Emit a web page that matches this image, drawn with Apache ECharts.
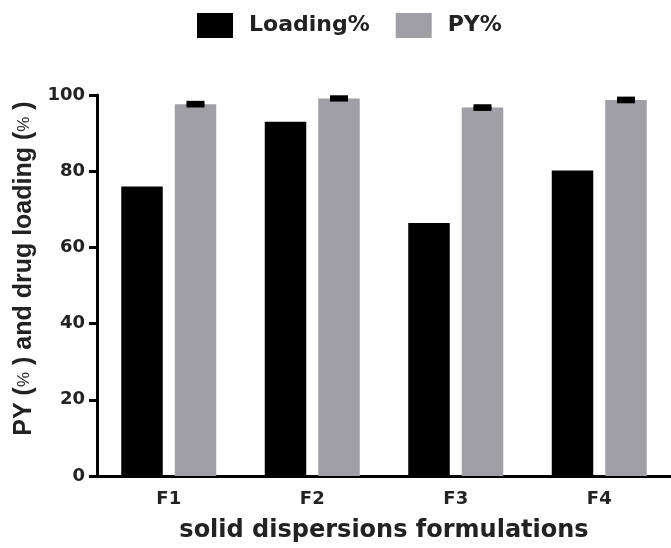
<!DOCTYPE html>
<html>
<head>
<meta charset="utf-8">
<script src="https://cdn.jsdelivr.net/npm/echarts@6/dist/echarts.min.js"></script>
<style>
  html, body { margin: 0; padding: 0; background: #fff; }
  #chart { width: 671px; height: 548px; }
</style>
</head>
<body>
<div id="chart"></div>
<script>
// Formulations and measured values (%)
const categories = ['F1', 'F2', 'F3', 'F4'];
const loading = [76.0, 93.0, 66.4, 80.2];
const py = [97.6, 99.1, 96.7, 98.7];
const pySd = [0.35, 0.3, 0.35, 0.35];
const yTicks = [0, 20, 40, 60, 80, 100];

// Bar geometry
const BAR_W = 41.5;
const BAR_GAP_PX = 12;
const PY_OFFSET = (BAR_W + BAR_GAP_PX) / 2;

const chart = echarts.init(document.getElementById('chart'), null, { renderer: 'canvas' });

const axisFont = 'DejaVu Sans';
const errorData = categories.map((c, i) => [i, py[i] - pySd[i], py[i] + pySd[i]]);

chart.setOption({
  animation: false,
  backgroundColor: '#ffffff',
  legend: {
    data: ['Loading%', 'PY%'],
    left: 192,
    top: 8,
    itemWidth: 36,
    itemHeight: 25,
    itemGap: 26,
    icon: 'rect',
    textStyle: {
      fontFamily: axisFont,
      fontWeight: 'bold',
      fontSize: 22,
      color: '#222',
      padding: [0, 0, 0, 11]
    }
  },
  grid: { left: 97, right: 0, top: 95, bottom: 71, containLabel: false },
  xAxis: {
    type: 'category',
    data: categories,
    name: 'solid dispersions formulations',
    nameLocation: 'middle',
    nameGap: 43,
    nameTextStyle: { fontFamily: axisFont, fontWeight: 'bold', fontSize: 24, color: '#222' },
    axisLine: { lineStyle: { color: '#000', width: 3 } },
    axisTick: { show: false },
    axisLabel: { fontFamily: axisFont, fontWeight: 'bold', fontSize: 18, color: '#222', margin: 14 }
  },
  yAxis: {
    type: 'value',
    min: yTicks[0],
    max: yTicks[yTicks.length - 1],
    interval: yTicks[1] - yTicks[0],
    name: 'PY ({s|%} ) and drug loading ({s|%} )',
    nameLocation: 'middle',
    nameGap: 54,
    nameRotate: 90,
    nameTextStyle: {
      fontFamily: 'Liberation Sans',
      fontWeight: 'bold',
      fontSize: 25,
      color: '#222',
      padding: [0, 0, 0, 34],
      rich: { s: { fontFamily: 'Liberation Sans', fontSize: 17, fontWeight: 'normal', color: '#222' } }
    },
    splitLine: { show: false },
    axisLine: { show: true, lineStyle: { color: '#000', width: 3 } },
    axisTick: { show: true, length: 8, lineStyle: { color: '#000', width: 3 } },
    axisLabel: { fontFamily: axisFont, fontWeight: 'bold', fontSize: 18, color: '#222', margin: 12 }
  },
  series: [
    {
      name: 'Loading%',
      type: 'bar',
      data: loading,
      barWidth: BAR_W,
      barGap: (BAR_GAP_PX / BAR_W * 100) + '%',
      itemStyle: { color: '#000000' }
    },
    {
      name: 'PY%',
      type: 'bar',
      data: py,
      barWidth: BAR_W,
      itemStyle: { color: '#a09fa4' }
    },
    {
      name: 'PY% SD',
      type: 'custom',
      z: 10,
      data: errorData,
      renderItem: function (params, api) {
        const lo = api.coord([api.value(0), api.value(1)]);
        const hi = api.coord([api.value(0), api.value(2)]);
        const x = lo[0] + PY_OFFSET;
        const half = 9;
        const style = { stroke: '#000', lineWidth: 4, fill: null };
        return {
          type: 'group',
          children: [
            { type: 'line', shape: { x1: x, y1: lo[1], x2: x, y2: hi[1] }, style: style },
            { type: 'line', shape: { x1: x - half, y1: lo[1], x2: x + half, y2: lo[1] }, style: style },
            { type: 'line', shape: { x1: x - half, y1: hi[1], x2: x + half, y2: hi[1] }, style: style }
          ]
        };
      }
    }
  ]
});
</script>
</body>
</html>
